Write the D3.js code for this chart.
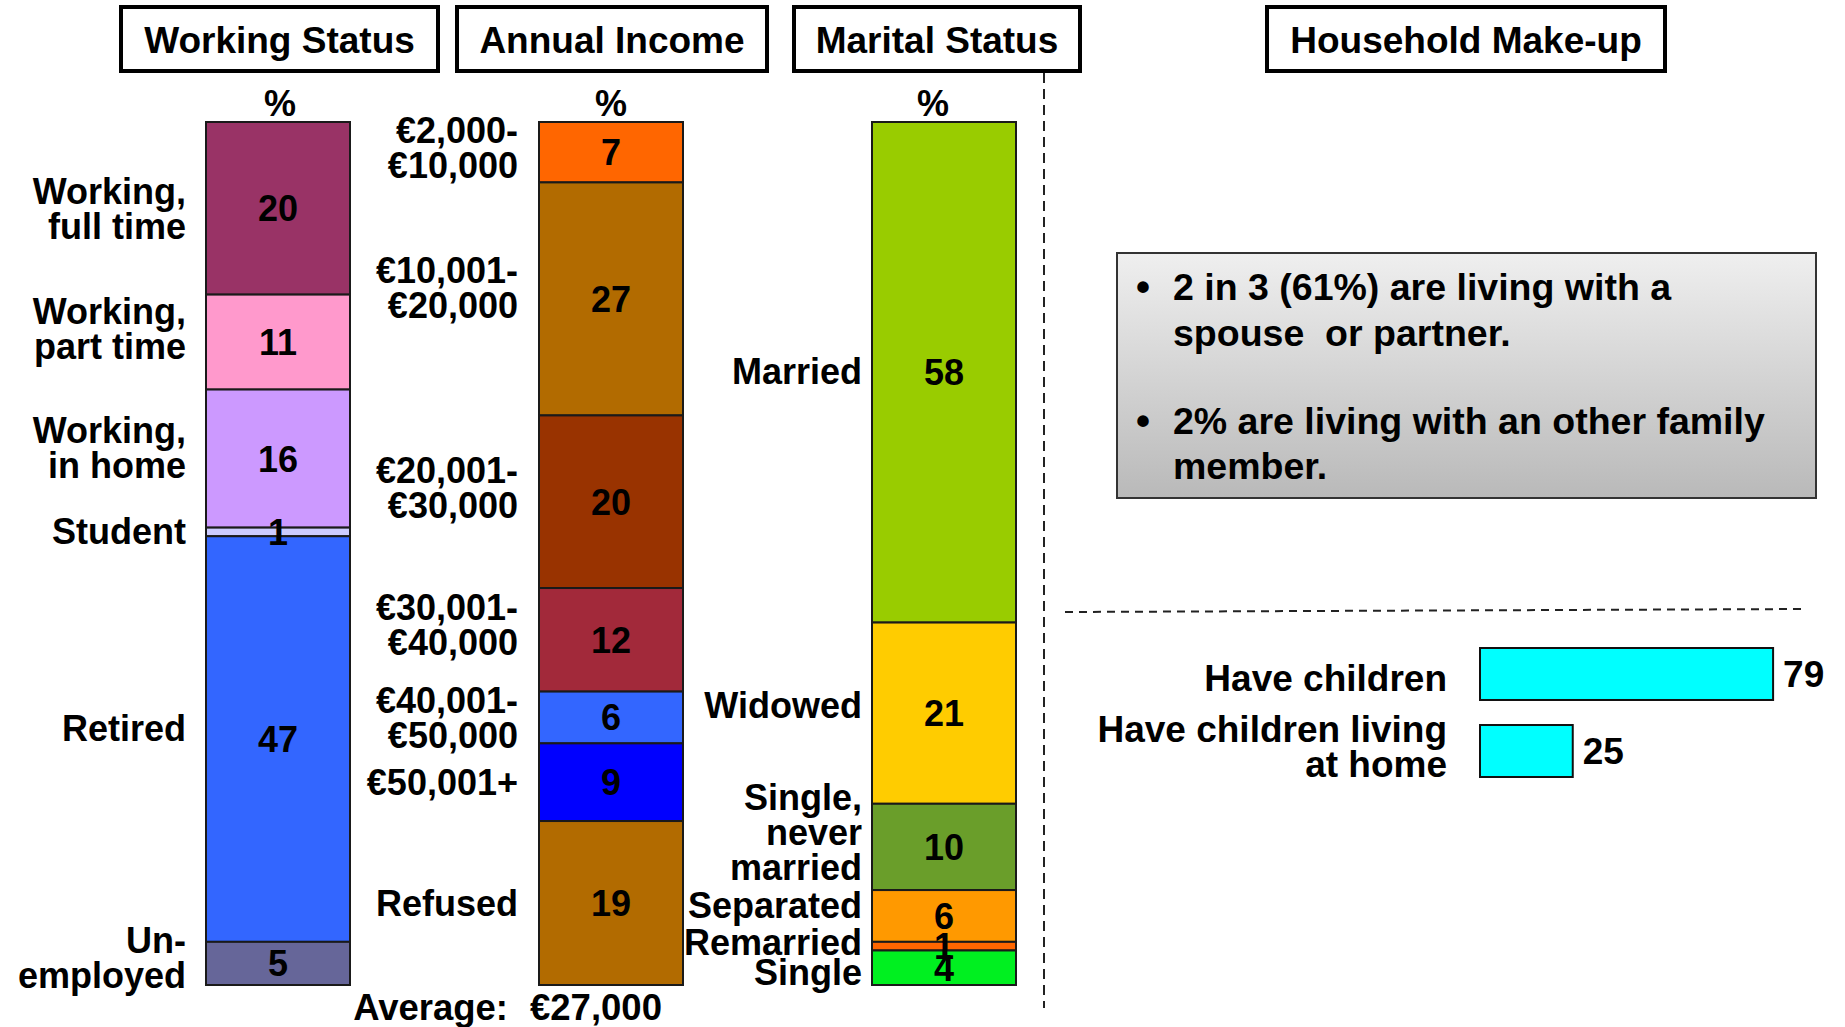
<!DOCTYPE html>
<html>
<head>
<meta charset="utf-8">
<script src="https://cdn.jsdelivr.net/npm/d3@7"></script>
<style>
  html, body { margin: 0; padding: 0; background: #fff; }
  svg { display: block; font-family: "Liberation Sans", Arial, sans-serif; font-weight: bold; }
</style>
</head>
<body>
<svg id="chart" width="1845" height="1027"></svg>
<script>
// ---------------- DATA ----------------
const panelTitles = ["Working Status", "Annual Income", "Marital Status", "Household Make-up"];

const workCategories = [["Working,", "full time"], ["Working,", "part time"], ["Working,", "in home"], ["Student"], ["Retired"], ["Un-", "employed"]];
const workValues = [20, 11, 16, 1, 47, 5];

const incomeCategories = [["€2,000-", "€10,000"], ["€10,001-", "€20,000"], ["€20,001-", "€30,000"], ["€30,001-", "€40,000"], ["€40,001-", "€50,000"], ["€50,001+"], ["Refused"]];
const incomeValues = [7, 27, 20, 12, 6, 9, 19];
const incomeAverage = "€27,000";

const maritalCategories = [["Married"], ["Widowed"], ["Single,", "never", "married"], ["Separated"], ["Remarried"], ["Single"]];
const maritalValues = [58, 21, 10, 6, 1, 4];

const householdNotes = [["2 in 3 (61%) are living with a", "spouse  or partner."], ["2% are living with an other family", "member."]];
const childCategories = [["Have children"], ["Have children living", "at home"]];
const childValues = [79, 25];

// ---------------- STYLES ----------------
const workColors = ["#993366", "#FF99CC", "#CC99FF", "#CCCCFF", "#3366FF", "#666699"];
const incomeColors = ["#FF6600", "#B26B00", "#993300", "#A2293A", "#3366FF", "#0000FF", "#B26B00"];
const maritalColors = ["#99CC00", "#FFCC00", "#6A9E2A", "#FF9900", "#FF6600", "#00F020"];
const childColor = "#00FFFF";

// label nudges (px) to mimic hand placement
const workNudge = [1, -13, -11, -1, -11, -6];
const incomeNudge = [-4, -11, -14, -15, 0, 0, 0];
const maritalNudge = [-1, -8, -15, -11, -4, 5];

const FS = 36;       // font size
const LH = 35;       // line height

const svg = d3.select("#chart");

// gradient for note box
const defs = svg.append("defs");
const grad = defs.append("linearGradient").attr("id", "gbox").attr("x1", 0).attr("y1", 0).attr("x2", 0).attr("y2", 1);
grad.append("stop").attr("offset", "0%").attr("stop-color", "#EFEFEF");
grad.append("stop").attr("offset", "100%").attr("stop-color", "#B9B9B9");

// ---------------- TITLE BOXES ----------------
const titleBoxes = [
  { x0: 121, x1: 438 },
  { x0: 457, x1: 767 },
  { x0: 794, x1: 1080 },
  { x0: 1267, x1: 1665 }
];
titleBoxes.forEach((b, i) => {
  svg.append("rect").attr("x", b.x0).attr("y", 7).attr("width", b.x1 - b.x0).attr("height", 64)
    .attr("fill", "#fff").attr("stroke", "#000").attr("stroke-width", 4);
  svg.append("text").attr("x", (b.x0 + b.x1) / 2).attr("y", 40).attr("dy", "0.35em")
    .attr("text-anchor", "middle").attr("font-size", 37).text(panelTitles[i]);
});

// ---------------- STACKED COLUMNS ----------------
const y = d3.scaleLinear().domain([0, 100]).range([122, 985]);
const BW = 144;

function multiline(sel, lines, x, cy, anchor, fs) {
  const n = lines.length;
  const t = sel.append("text").attr("x", x).attr("text-anchor", anchor).attr("font-size", fs || FS);
  lines.forEach((l, i) => {
    t.append("tspan").attr("x", x).attr("y", cy + (i - (n - 1) / 2) * LH).attr("dy", "0.35em").text(l);
  });
  return t;
}

function stackColumn(values, cats, colors, nudges, xLeft, labelRight, pctShift) {
  const ends = d3.cumsum(values);
  const segs = values.map((v, i) => ({ v, start: ends[i] - v, end: ends[i], cat: cats[i], color: colors[i], nudge: nudges[i] }));
  const g = svg.append("g");
  g.selectAll("rect").data(segs).join("rect")
    .attr("x", xLeft).attr("width", BW)
    .attr("y", d => y(d.start)).attr("height", d => y(d.end) - y(d.start))
    .attr("fill", d => d.color).attr("stroke", "#1a1a1a").attr("stroke-width", 2);
  segs.forEach(d => {
    const cy = (y(d.start) + y(d.end)) / 2;
    g.append("text").attr("x", xLeft + BW / 2).attr("y", cy).attr("dy", "0.36em")
      .attr("text-anchor", "middle").attr("font-size", FS).text(d.v);
    multiline(g, d.cat, labelRight, cy + d.nudge, "end");
  });
  g.append("text").attr("x", xLeft + BW / 2 + pctShift).attr("y", 103).attr("dy", "0.35em")
    .attr("text-anchor", "middle").attr("font-size", FS).text("%");
}

stackColumn(workValues, workCategories, workColors, workNudge, 206, 186, 2);
stackColumn(incomeValues, incomeCategories, incomeColors, incomeNudge, 539, 518, 0);
stackColumn(maritalValues, maritalCategories, maritalColors, maritalNudge, 872, 862, -11);

// average
svg.append("text").attr("x", 508).attr("y", 1007).attr("dy", "0.35em").attr("text-anchor", "end")
  .attr("font-size", 36.5).text("Average:");
svg.append("text").attr("x", 530).attr("y", 1007).attr("dy", "0.35em").attr("text-anchor", "start")
  .attr("font-size", 36.5).text(incomeAverage);

// ---------------- SEPARATORS ----------------
svg.append("line").attr("x1", 1044).attr("x2", 1044).attr("y1", 73).attr("y2", 1008)
  .attr("stroke", "#222").attr("stroke-width", 2).attr("stroke-dasharray", "10,6");
svg.append("line").attr("x1", 1065).attr("x2", 1806).attr("y1", 612).attr("y2", 609)
  .attr("stroke", "#222").attr("stroke-width", 2).attr("stroke-dasharray", "8,6");

// ---------------- NOTE BOX ----------------
svg.append("rect").attr("x", 1117).attr("y", 253).attr("width", 699).attr("height", 245)
  .attr("fill", "url(#gbox)").attr("stroke", "#333").attr("stroke-width", 2);
const noteY = [[287, 333], [421, 466]];
householdNotes.forEach((lines, i) => {
  svg.append("text").attr("x", 1136).attr("y", noteY[i][0]).attr("dy", "0.35em")
    .attr("font-size", 40).text("•");
  lines.forEach((l, j) => {
    svg.append("text").attr("x", 1173).attr("y", noteY[i][j]).attr("dy", "0.35em")
      .attr("font-size", 37.5).attr("xml:space", "preserve").style("white-space", "pre").text(l);
  });
});

// ---------------- CHILDREN BARS ----------------
const hx = d3.scaleLinear().domain([0, 100]).range([1480, 1480 + 371]);
const hy = d3.scaleBand().domain(childCategories.map(c => c.join(" "))).range([648, 777]).paddingInner(0.325).paddingOuter(0);
const childNudge = [4, -4];
childCategories.forEach((c, i) => {
  const key = c.join(" ");
  const by = hy(key), bh = hy.bandwidth();
  svg.append("rect").attr("x", hx(0)).attr("y", by).attr("width", hx(childValues[i]) - hx(0)).attr("height", bh)
    .attr("fill", childColor).attr("stroke", "#111").attr("stroke-width", 2);
  svg.append("text").attr("x", hx(childValues[i]) + 10).attr("y", by + bh / 2).attr("dy", "0.35em")
    .attr("font-size", 37).text(childValues[i]);
  multiline(svg, c, 1447, by + bh / 2 + childNudge[i], "end", 37);
});
</script>
</body>
</html>
